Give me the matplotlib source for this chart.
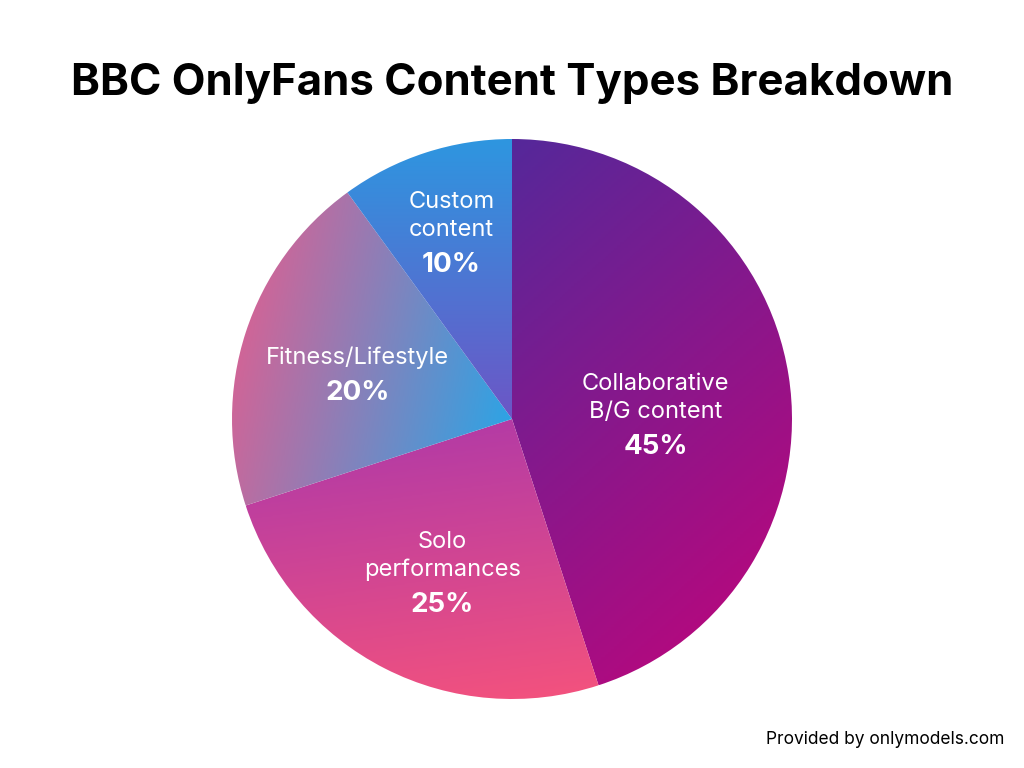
import matplotlib
matplotlib.use("Agg")
from matplotlib import pyplot as plt
from matplotlib.colors import LinearSegmentedColormap
import numpy as np

plt.rcParams['font.family'] = ['Inter', 'DejaVu Sans']

labels = ['Collaborative\nB/G content', 'Solo\nperformances', 'Fitness/Lifestyle', 'Custom\ncontent']
values = [45, 25, 20, 10]
# gradient start colour, end colour, direction (degrees, 0 = left->right, -90 = top->bottom)
grads = [('#55289a', '#c4047a', -65),
         ('#ac38aa', '#f6537c', -80),
         ('#ec5a8a', '#22a8ea', -15),
         ('#2e96e0', '#6c56c6', -90)]
label_dist = [0.52, 0.55, 0.58, 0.70]
pct_drop = [51, 49, 24, 32]   # pct text below the anchor point, px

fig = plt.figure(figsize=(10.24, 7.68), dpi=100)
ax = fig.add_axes([0, 0, 1, 1])

cx, cy, r = 512, 349, 280
wedges, _ = ax.pie(values, center=(cx, cy), radius=r, startangle=90,
                   counterclock=False, frame=True)
ax.set_xlim(0, 1024)
ax.set_ylim(0, 768)
ax.set_aspect('auto')
ax.axis('off')

yy, xx = np.mgrid[1:-1:200j, -1:1:200j]
for w, (c1, c2, ang), lab, v, d, drop in zip(wedges, grads, labels, values,
                                             label_dist, pct_drop):
    w.set_facecolor('none')
    w.set_edgecolor('none')
    verts = w.get_path().vertices
    x0, y0 = verts.min(axis=0)
    x1, y1 = verts.max(axis=0)
    a = np.deg2rad(ang)
    g = xx * np.cos(a) + yy * np.sin(a)
    g = (g - g.min()) / (g.max() - g.min())
    cmap = LinearSegmentedColormap.from_list('g', [c1, c2])
    im = ax.imshow(g, cmap=cmap, extent=(x0, x1, y0, y1),
                   aspect='auto', zorder=1)
    im.set_clip_path(w)
    mid = np.deg2rad((w.theta1 + w.theta2) / 2)
    tx = cx + d * r * np.cos(mid)
    ty = cy + d * r * np.sin(mid) - drop
    ax.text(tx, ty + 24, lab, ha='center', va='bottom', fontsize=17,
            color='white', linespacing=1.35, zorder=3)
    ax.text(tx, ty, f'{v}%', ha='center', va='center', fontsize=20,
            fontweight='bold', color='white', zorder=3)

ax.text(512, 684, 'BBC OnlyFans Content Types Breakdown', ha='center',
        va='center', fontsize=31.5, fontweight='bold', color='black')
ax.text(1004, 28, 'Provided by onlymodels.com', ha='right', va='center',
        fontsize=12.5, color='black')

fig.savefig('out.png', dpi=100)
